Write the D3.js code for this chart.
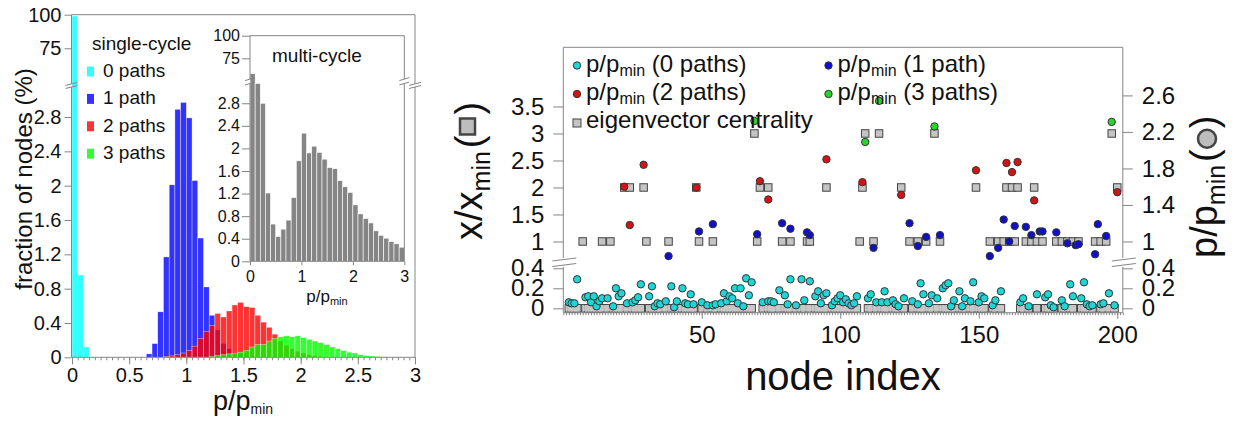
<!DOCTYPE html>
<html>
<head>
<meta charset="utf-8">
<script src="https://cdn.jsdelivr.net/npm/d3@7"></script>
<style>
  body { margin: 0; background: #fff; }
  svg { font-family: "Liberation Sans", Arial, sans-serif; }
</style>
</head>
<body>
<script>
// ---- left panel: single-cycle histograms, bin width 0.05, [bin start, % of nodes]
const binW = 0.05
const path0 = [[0, 99], [0.05, 0.96], [0.1, 0.12]]
const path1 = [[0.65,0.04],[0.70,0.16],[0.75,0.53],[0.80,1.17],[0.85,2.01],[0.90,2.89],[0.95,2.97],
  [1.00,2.79],[1.05,2.06],[1.10,1.39],[1.15,0.82],[1.20,0.49],[1.25,0.32],[1.30,0.16],[1.35,0.10],
  [1.40,0.06],[1.45,0.04],[1.50,0.02]]
const path2 = [[0.80,0.01],[0.85,0.016],[0.90,0.03],[0.95,0.05],[1.00,0.08],[1.05,0.13],[1.10,0.22],
  [1.15,0.30],[1.20,0.37],[1.25,0.51],[1.30,0.47],[1.35,0.54],[1.40,0.61],[1.45,0.64],[1.50,0.59],
  [1.55,0.58],[1.60,0.49],[1.65,0.41],[1.70,0.35],[1.75,0.27],[1.80,0.19],[1.85,0.14],[1.90,0.10],
  [1.95,0.07],[2.00,0.05],[2.05,0.03],[2.10,0.02],[2.15,0.01]]
const path3 = [[1.20,0.01],[1.25,0.02],[1.30,0.03],[1.35,0.04],[1.40,0.05],[1.45,0.06],[1.50,0.08],
  [1.55,0.12],[1.60,0.15],[1.65,0.15],[1.70,0.19],[1.75,0.22],[1.80,0.24],[1.85,0.25],[1.90,0.24],
  [1.95,0.25],[2.00,0.23],[2.05,0.21],[2.10,0.19],[2.15,0.17],[2.20,0.15],[2.25,0.12],[2.30,0.10],
  [2.35,0.08],[2.40,0.06],[2.45,0.05],[2.50,0.03],[2.55,0.02],[2.60,0.015],[2.65,0.01],[2.70,0.005]]
const pathLabels = ['0 paths', '1 path', '2 paths', '3 paths']

// inset: multi-cycle histogram, bin width 0.1 starting at 0
const multiW = 0.1
const multi = [58, 3.3, 2.8, 1.21, 0.66, 0.44, 0.57, 0.73, 1.13, 1.78, 2.27, 1.92, 2.04, 1.93, 1.81,
  1.66, 1.64, 1.43, 1.32, 1.22, 1.0, 0.84, 0.76, 0.68, 0.54, 0.46, 0.41, 0.35, 0.31, 0.25]

// ---- right panel: per node index
// eigenvector centrality x/xmin (squares); nodes with 0 paths sit at 0
const eig1 = [7,14,17,30,38,49,54,70,79,82,88,89,107,112,125,128,131,136,154,157,159,161,163,
  167,169,171,173,178,180,182,184,186,192,194,196]
const eig2 = [22,24,29,48,71,74,95,108,122,149,160,162,164,170,200]
const eig3 = [69,109,114,134,198]

// p/pmin (circles), [node, value]
const p0 = [[2,0.06],[3,0.05],[4,0.05],[5,0.29],[8,0.11],[9,0.12],[10,0.06],[11,0.12],[12,0.02],
  [13,0.07],[14,0.1],[16,0.1],[18,0.02],[19,0.2],[20,0.12],[21,0.15],[23,0.05],[25,0.06],[26,0.08],
  [27,0.11],[28,0.24],[31,0.12],[32,0.22],[33,0.02],[34,0.05],[35,0.04],[37,0.07],[39,0.22],[40,0.01],
  [41,0.07],[43,0.2],[44,0.05],[45,0.04],[46,0.14],[47,0.04],[50,0.06],[52,0.03],[54,0.03],[55,0.04],
  [57,0.05],[58,0.15],[59,0.07],[60,0.12],[61,0.1],[62,0.2],[63,0.05],[64,0.2],[65,0.02],[66,0.3],
  [67,0.13],[68,0.26],[72,0.06],[74,0.07],[75,0.07],[76,0.06],[78,0.18],[80,0.13],[81,0.04],[82,0.29],
  [84,0.03],[86,0.29],[87,0.08],[89,0.27],[91,0.12],[92,0.17],[93,0.05],[94,0.13],[95,0.15],[97,0.03],
  [98,0.07],[99,0.1],[100,0.13],[101,0.06],[102,0.09],[103,0.05],[104,0.03],[105,0.05],[106,0.12],
  [110,0.1],[111,0.14],[113,0.06],[115,0.06],[116,0.17],[117,0.06],[119,0.08],[120,0.04],[121,0.02],
  [123,0.1],[126,0.07],[128,0.04],[129,0.25],[130,0.14],[132,0.05],[133,0.13],[135,0.1],[137,0.2],
  [138,0.23],[139,0.25],[140,0.02],[141,0.08],[143,0.17],[144,0.02],[145,0.1],[147,0.07],[148,0.26],
  [150,0.06],[151,0.12],[152,0.1],[155,0.03],[156,0.08],[158,0.17],[165,0.06],[166,0.1],[168,0.02],
  [171,0.14],[174,0.11],[175,0.14],[176,0.03],[177,0.01],[180,0.08],[181,0.02],[183,0.24],[184,0.12],
  [187,0.1],[188,0.26],[189,0.04],[190,0.02],[191,0.03],[194,0.04],[195,0.05],[197,0.15],[199,0.03]]
const p1 = [[38,0.84],[49,1.11],[54,1.19],[70,1.08],[79,1.2],[82,1.14],[88,1.10],[89,1.07],[112,0.93],
  [125,1.2],[128,0.95],[131,1.05],[136,1.07],[154,0.84],[157,0.93],[159,1.24],[161,1.0],[163,1.17],
  [167,1.16],[169,1.07],[172,1.11],[173,1.11],[178,1.1],[182,0.98],[185,0.96],[186,0.97],[192,0.86],
  [193,1.19],[196,1.06]]
const p2 = [[22,1.6],[24,1.18],[29,1.84],[48,1.59],[71,1.66],[74,1.46],[95,1.9],[108,1.65],[122,1.51],
  [149,1.78],[160,1.86],[162,1.76],[164,1.87],[170,1.45],[200,1.54]]
const p3 = [[69,2.32],[109,2.09],[114,2.54],[134,2.26],[198,2.31]]

const W = 1238, H = 422
const axisColor = '#858585'
const textColor = '#111'
const fmt = d3.format('~g')
const barColors = ['#00ffff', '#0000ff', '#ff0000', '#00ff00']
const dotColors = ['#1ed6d6', '#1010c8', '#d41414', '#2ad42a']

const svg = d3.select('body').append('svg').attr('width', W).attr('height', H)
svg.append('rect').attr('width', W).attr('height', H).attr('fill', '#fff')

const line = (g, x1, y1, x2, y2) => g.append('line')
  .attr('x1', x1).attr('y1', y1).attr('x2', x2).attr('y2', y2)
  .attr('stroke', axisColor).attr('stroke-width', 1)

const breakMark = (g, x, yTop, yBot, l, r) => {
  [yTop, yBot].forEach(y => line(g, x - l, y + 1.5, x + r, y - 1.5))
}

const styleAxis = (g, size) => {
  g.attr('font-size', size).attr('font-family', null)
  g.select('.domain').remove()
  g.selectAll('.tick line').attr('stroke', axisColor)
  g.selectAll('.tick text').attr('fill', textColor)
}

// ================= left panel =================
const left = svg.append('g')
const xL = d3.scaleLinear().domain([0, 3]).range([72, 415])
const yL = d3.scaleLinear().domain([0, 3.15, 48.5, 100]).range([357.3, 87, 83.9, 14.7])

;[path0, path1, path2, path3].forEach((series, i) => {
  left.append('g').selectAll('rect').data(series).join('rect')
    .attr('x', d => xL(d[0]))
    .attr('width', d => xL(d[0] + binW) - xL(d[0]))
    .attr('y', d => yL(d[1]))
    .attr('height', d => yL(0) - yL(d[1]))
    .attr('fill', barColors[i]).attr('fill-opacity', 0.8)
    .attr('stroke', '#fff').attr('stroke-width', 0.5).attr('stroke-opacity', 0.7)
})

left.append('g').attr('transform', `translate(${xL(0) - 0.5},0)`)
  .call(d3.axisLeft(yL).tickValues([0, 0.4, 0.8, 1.2, 1.6, 2, 2.4, 2.8, 75, 100])
    .tickSize(7).tickPadding(3).tickFormat(fmt))
  .call(g => styleAxis(g, 20))

left.append('g').attr('transform', `translate(0,${yL(0)})`)
  .call(d3.axisBottom(xL).tickValues(d3.range(0, 61).map(i => i * binW)).tickSize(3).tickFormat(''))
  .call(g => styleAxis(g, 20))
left.append('g').attr('transform', `translate(0,${yL(0)})`)
  .call(d3.axisBottom(xL).tickValues([0, 0.5, 1, 1.5, 2, 2.5, 3]).tickSize(7).tickPadding(4).tickFormat(fmt))
  .call(g => styleAxis(g, 20))

{
  const x0 = xL(0) - 0.5, x1 = xL(3)
  line(left, x0, yL(100), x1, yL(100))
  line(left, x0, yL(0), x1, yL(0))
  ;[x0, x1].forEach(x => {
    line(left, x, yL(0), x, yL(3.15))
    line(left, x, yL(48.5), x, yL(100))
    breakMark(left, x, yL(48.5), yL(3.15), 6, 6)
  })
}

left.append('text').attr('transform', 'translate(32,179) rotate(-90)')
  .attr('text-anchor', 'middle').attr('font-size', 24).attr('fill', textColor)
  .text('fraction of nodes (%)')

{
  const t = left.append('text').attr('x', 243).attr('y', 410).attr('text-anchor', 'middle')
    .attr('font-size', 27).attr('fill', textColor)
  t.append('tspan').text('p/p')
  t.append('tspan').attr('font-size', 14).attr('dy', 4).text('min')
}

// legend
left.append('text').attr('x', 92).attr('y', 49.5).attr('font-size', 19).attr('fill', textColor)
  .text('single-cycle')
pathLabels.forEach((lab, i) => {
  const y = 77 + i * 27.4
  left.append('rect').attr('x', 87).attr('y', y - 10.5).attr('width', 7).attr('height', 10)
    .attr('fill', barColors[i]).attr('fill-opacity', 0.8)
  left.append('text').attr('x', 103).attr('y', y).attr('font-size', 19).attr('fill', textColor).text(lab)
})

// ================= inset =================
const inset = svg.append('g')
const xI = d3.scaleLinear().domain([0, 3]).range([250, 404.3])
const yI = d3.scaleLinear().domain([0, 3.15, 52, 100]).range([261.3, 83.5, 79.1, 35.7])

inset.append('g').selectAll('rect').data(multi).join('rect')
  .attr('x', (d, i) => xI(i * multiW))
  .attr('width', (d, i) => xI((i + 1) * multiW) - xI(i * multiW))
  .attr('y', d => yI(Math.min(d, 100)))
  .attr('height', d => yI(0) - yI(d))
  .attr('fill', '#858585').attr('stroke', '#fff').attr('stroke-width', 0.6)

inset.append('g').attr('transform', `translate(${xI(0)},0)`)
  .call(d3.axisLeft(yI).tickValues([0, 0.4, 0.8, 1.2, 1.6, 2, 2.4, 2.8, 75, 100])
    .tickSize(8).tickPadding(2).tickFormat(fmt))
  .call(g => styleAxis(g, 16))
inset.append('g').attr('transform', `translate(0,${yI(0)})`)
  .call(d3.axisBottom(xI).tickValues([0, 1, 2, 3]).tickSize(4).tickPadding(5).tickFormat(fmt))
  .call(g => styleAxis(g, 16))

{
  const x0 = xI(0), x1 = xI(3)
  line(inset, x0, yI(100), x1, yI(100))
  line(inset, x0, yI(0), x1, yI(0))
  ;[x0, x1].forEach(x => {
    line(inset, x, yI(0), x, yI(3.15))
    line(inset, x, yI(52), x, yI(100))
    breakMark(inset, x, yI(52), yI(3.15), 5, 5)
  })
}
inset.append('text').attr('x', 272).attr('y', 61.5).attr('font-size', 19).attr('fill', textColor)
  .text('multi-cycle')
{
  const t = inset.append('text').attr('x', 327).attr('y', 302).attr('text-anchor', 'middle')
    .attr('font-size', 17).attr('fill', textColor)
  t.append('tspan').text('p/p')
  t.append('tspan').attr('font-size', 11).attr('dy', 3).text('min')
}

// ================= right panel =================
const right = svg.append('g')
const xR = d3.scaleLinear().domain([0, 202]).range([563.3, 1122.8])
const yEig = d3.scaleLinear().domain([-0.044, 0.413, 0.694, 4.596]).range([312.7, 267, 258, 47.3])
const yP = d3.scaleLinear().domain([-0.044, 0.413, 0.819, 3.127]).range([312.7, 267, 258, 47.3])
const sq = 7.5, rDot = 3.7

// nodes with no path: centrality 0 -> the grey strip at the bottom
const zeroNodes = p0.map(d => d[0])
const bottom = right.append('g')
bottom.selectAll('rect.o').data(zeroNodes).join('rect').attr('class', 'o')
  .attr('x', d => xR(d) - sq / 2).attr('y', yEig(0) - sq / 2)
  .attr('width', sq).attr('height', sq)
  .attr('fill', '#c4c4c4').attr('stroke', '#444').attr('stroke-width', 1)
bottom.selectAll('rect.i').data(zeroNodes).join('rect').attr('class', 'i')
  .attr('x', d => xR(d) - sq / 2 + 0.7).attr('y', yEig(0) - sq / 2 + 0.7)
  .attr('width', sq - 1.4).attr('height', sq - 1.4)
  .attr('fill', '#c8c8c8').attr('fill-opacity', 0.85)

const eigSquares = [].concat(eig1.map(n => [n, 1]), eig2.map(n => [n, 2]), eig3.map(n => [n, 3]))
right.append('g').selectAll('rect').data(eigSquares).join('rect')
  .attr('x', d => xR(d[0]) - sq / 2).attr('y', d => yEig(d[1]) - sq / 2)
  .attr('width', sq).attr('height', sq)
  .attr('fill', '#c4c4c4').attr('stroke', '#444').attr('stroke-width', 1)

;[p0, p1, p2, p3].forEach((series, i) => {
  right.append('g').selectAll('circle').data(series).join('circle')
    .attr('cx', d => xR(d[0])).attr('cy', d => yP(d[1])).attr('r', rDot)
    .attr('fill', dotColors[i]).attr('stroke', '#333').attr('stroke-width', 1)
})

right.append('g').attr('transform', `translate(${xR(0)},0)`)
  .call(d3.axisLeft(yEig).tickValues([0, 0.2, 0.4, 1, 1.5, 2, 2.5, 3, 3.5])
    .tickSize(10).tickPadding(9).tickFormat(fmt))
  .call(g => styleAxis(g, 24))
right.append('g').attr('transform', `translate(${xR(202)},0)`)
  .call(d3.axisRight(yP).tickValues([0, 0.2, 0.4, 1, 1.4, 1.8, 2.2, 2.6])
    .tickSize(10).tickPadding(9).tickFormat(fmt))
  .call(g => styleAxis(g, 24))
right.append('g').attr('transform', `translate(0,${yEig(-0.044)})`)
  .call(d3.axisBottom(xR).tickValues(d3.range(0, 203)).tickSize(2.5).tickFormat(''))
  .call(g => styleAxis(g, 24))
right.append('g').attr('transform', `translate(0,${yEig(-0.044)})`)
  .call(d3.axisBottom(xR).tickValues([50, 100, 150, 200]).tickSize(6).tickPadding(7).tickFormat(fmt))
  .call(g => styleAxis(g, 24))

{
  const x0 = xR(0), x1 = xR(202), yTop = yEig(4.596), yBot = yEig(-0.044)
  line(right, x0, yTop, x1, yTop)
  line(right, x0, yBot, x1, yBot)
  ;[x0, x1].forEach(x => {
    line(right, x, yBot, x, yEig(0.413))
    line(right, x, yEig(0.694), x, yTop)
    breakMark(right, x, yEig(0.694) + 1.5, yEig(0.413) - 2, 11, 13)
  })
}

right.append('text').attr('x', 843).attr('y', 390).attr('text-anchor', 'middle')
  .attr('font-size', 40).attr('fill', textColor).text('node index')

// rotated axis titles with a marker symbol
const symbolTitle = (x, y, base, shape) => {
  const g = svg.append('g').attr('transform', `translate(${x},${y}) rotate(-90)`)
    .attr('fill', textColor)
  const t = g.append('text').attr('font-size', 38)
  t.append('tspan').text(base)
  t.append('tspan').attr('font-size', 25).attr('dy', 8).text('min')
  let w = t.node().getComputedTextLength() + 3
  const o = g.append('text').attr('x', w).attr('font-size', 38).text('(')
  w += o.node().getComputedTextLength() + 1
  if (shape === 'square') {
    g.append('rect').attr('x', w).attr('y', -22).attr('width', 16).attr('height', 15)
      .attr('fill', '#bdbdbd').attr('stroke', '#444').attr('stroke-width', 2.5)
  } else {
    g.append('circle').attr('cx', w + 9.5).attr('cy', -10).attr('r', 9)
      .attr('fill', '#bdbdbd').attr('stroke', '#444').attr('stroke-width', 2.5)
  }
  w += 20
  g.append('text').attr('x', w).attr('font-size', 38).text(')')
}
symbolTitle(482, 240, 'x/x', 'square')
symbolTitle(1217, 258, 'p/p', 'circle')

// legend
const legend = right.append('g')
const legendRows = [
  { label: '(0 paths)', color: dotColors[0], x: 577, y: 71.5 },
  { label: '(1 path)', color: dotColors[1], x: 828.5, y: 71.5 },
  { label: '(2 paths)', color: dotColors[2], x: 577, y: 100 },
  { label: '(3 paths)', color: dotColors[3], x: 828.5, y: 100 }
]
legendRows.forEach(d => {
  legend.append('circle').attr('cx', d.x).attr('cy', d.y - 6).attr('r', 3.7)
    .attr('fill', d.color).attr('stroke', '#333').attr('stroke-width', 1)
  const t = legend.append('text').attr('x', d.x + 9).attr('y', d.y)
    .attr('font-size', 24).attr('fill', textColor)
  t.append('tspan').text('p/p')
  t.append('tspan').attr('font-size', 16).attr('dy', 4).text('min')
  t.append('tspan').attr('dy', -4).text(' ' + d.label)
})
legend.append('rect').attr('x', 573).attr('y', 119).attr('width', 8).attr('height', 8)
  .attr('fill', '#c4c4c4').attr('stroke', '#444').attr('stroke-width', 1)
legend.append('text').attr('x', 586).attr('y', 128).attr('font-size', 24).attr('fill', textColor)
  .text('eigenvector centrality')
</script>
</body>
</html>
